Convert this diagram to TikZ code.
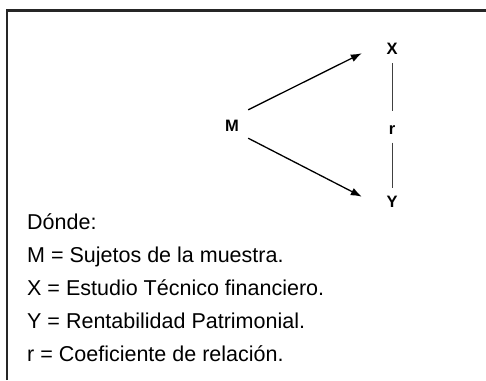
\documentclass[tikz,border=0pt]{standalone}
\usepackage{fontspec}
\setmainfont{Liberation Sans}
\usetikzlibrary{arrows.meta}

\begin{document}
\begin{tikzpicture}[x=1pt, y=-1pt,
  var/.style={font=\fontsize{16.5}{18}\selectfont\bfseries, inner sep=0pt},
  legend/.style={font=\fontsize{21.5}{26}\selectfont, anchor=base west, inner sep=0pt},
  arr/.style={line width=1.3pt, -{Latex[length=11pt, width=8pt]}},
  link/.style={line width=1pt, black!75}]
\useasboundingbox (0,0) rectangle (486,380);
% frame
\draw[line width=2.2pt, black!85] (7,380) -- (7,10.5) -- (486,10.5);

\node[var, minimum width=32, minimum height=32] (M) at (232,126) {M};
\node[var, minimum width=60, minimum height=28] (X) at (392,49) {X};
\node[var, minimum width=60, minimum height=28] (Y) at (392,202) {Y};
\node[var, minimum height=31, text height=14pt] (r) at (392,127) {r};

\draw[arr] (M.north east) -- (X.188);
\draw[arr] (M.-37) -- (Y.170);
\draw[link] (X.south) -- (r.north);
\draw[link] (r.south) -- (Y.north);

\node[legend] (donde) at (27,229.7) {Dónde:};
\node[legend] (defM) at (27,262.7) {M = Sujetos de la muestra.};
\node[legend] (defX) at (27,295.7) {X = Estudio Técnico financiero.};
\node[legend] (defY) at (27,328.7) {Y = Rentabilidad Patrimonial.};
\node[legend] (defr) at (27,361.7) {r = Coeficiente de relación.};
\end{tikzpicture}
\end{document}
